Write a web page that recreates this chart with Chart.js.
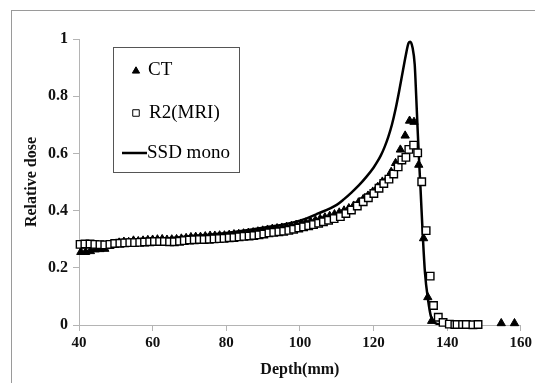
<!DOCTYPE html>
<html>
<head>
<meta charset="utf-8">
<script src="https://cdn.jsdelivr.net/npm/chart.js@4.4.0/dist/chart.umd.min.js"></script>
<style>
  html, body { margin: 0; padding: 0; background: #fff; overflow: hidden; }
  #frame { position: absolute; left: 11px; top: 10px; width: 600px; height: 500px; border: 1px solid #9a9a9a; }
  #wrap { position: absolute; left: 0; top: 0; width: 535px; height: 383px; }
</style>
</head>
<body>
<div id="frame"></div>
<div id="wrap"><canvas id="chart" width="535" height="383"></canvas></div>
<script>
// depth (mm) and relative dose
const ctDepth = [40.5, 41.8, 43.1, 44.4, 45.7, 47.0, 48.3, 49.6, 50.9, 52.2, 53.5, 54.8, 56.1, 57.4, 58.7, 60.0,
  61.3, 62.6, 63.9, 65.2, 66.5, 67.8, 69.1, 70.4, 71.7, 73.0, 74.3, 75.6, 76.9, 78.2, 79.5, 80.8, 82.1, 83.4,
  84.7, 86.0, 87.3, 88.6, 89.9, 91.2, 92.5, 93.8, 95.1, 96.4, 97.7, 99.0, 100.3, 101.6, 102.9, 104.2, 105.5,
  106.8, 108.1, 109.4, 110.7, 112.0, 113.3, 114.6, 115.9, 117.2, 118.5, 119.8, 121.1, 122.4, 123.5, 124.8,
  126.0, 127.3, 128.6, 129.8, 131.0, 132.3, 133.6, 134.75, 135.8, 154.7, 158.3];
const ctDose = [0.255, 0.255, 0.258, 0.264, 0.265, 0.266, 0.276, 0.283, 0.288, 0.291, 0.290, 0.295, 0.293, 0.295, 0.297, 0.298,
  0.299, 0.300, 0.298, 0.299, 0.300, 0.302, 0.304, 0.307, 0.308, 0.308, 0.310, 0.312, 0.312, 0.313, 0.313, 0.315, 0.317, 0.318,
  0.320, 0.322, 0.324, 0.327, 0.330, 0.333, 0.336, 0.338, 0.340, 0.343, 0.346, 0.350, 0.354, 0.358, 0.362, 0.366, 0.371,
  0.376, 0.381, 0.387, 0.393, 0.400, 0.408, 0.417, 0.428, 0.440, 0.452, 0.466, 0.482, 0.501, 0.507, 0.535,
  0.566, 0.613, 0.662, 0.714, 0.710, 0.560, 0.303, 0.097, 0.014, 0.006, 0.006];

const mriDepth = [40.3, 41.6, 43.0, 44.3, 45.7, 47.0, 48.4, 49.7, 51.1, 52.4, 53.8, 55.1, 56.5, 57.8, 59.2, 60.5,
  61.9, 63.2, 64.6, 65.9, 67.3, 68.6, 70.0, 71.3, 72.7, 74.0, 75.4, 76.7, 78.1, 79.4, 80.8, 82.1, 83.5, 84.8,
  86.2, 87.5, 88.9, 90.2, 91.6, 92.9, 94.3, 95.6, 97.0, 98.3, 99.7, 101.0, 102.4, 103.7, 105.1, 106.4, 107.8,
  109.3, 111.0, 112.5, 114.0, 115.6, 117.2, 118.6, 120.1, 121.5, 122.8, 124.2, 125.5, 126.7, 127.7, 128.8,
  129.6, 130.9, 132.0, 133.1, 134.3, 135.4, 136.3, 137.6, 138.9, 140.6, 142.1, 142.7, 144.2, 145.2, 147.0, 148.4];
const mriDose = [0.282, 0.283, 0.283, 0.282, 0.281, 0.280, 0.282, 0.285, 0.286, 0.287, 0.288, 0.288, 0.289, 0.290, 0.291, 0.292,
  0.292, 0.292, 0.291, 0.291, 0.293, 0.295, 0.297, 0.298, 0.299, 0.299, 0.300, 0.301, 0.302, 0.303, 0.305, 0.306, 0.308, 0.310,
  0.311, 0.313, 0.315, 0.318, 0.322, 0.324, 0.326, 0.328, 0.331, 0.335, 0.339, 0.343, 0.347, 0.351, 0.356, 0.361, 0.366,
  0.372, 0.379, 0.390, 0.402, 0.416, 0.431, 0.445, 0.460, 0.478, 0.495, 0.510, 0.528, 0.553, 0.577, 0.586,
  0.614, 0.629, 0.602, 0.501, 0.330, 0.171, 0.068, 0.027, 0.009, 0.003, 0.002, 0.002, 0.002, 0.002, 0.001, 0.002];

const ssdDepth = [40, 50, 60, 70, 80, 90, 100, 105, 110, 112, 114, 116, 118, 120, 121, 122, 123, 124, 125, 126,
  127, 128, 128.8, 129.5, 130, 130.6, 131.2, 131.6, 132, 132.4, 132.8, 133.4, 134, 134.8, 135.6, 136.5, 137.5, 140];
const ssdDose = [0.278, 0.288, 0.298, 0.310, 0.322, 0.340, 0.365, 0.390, 0.420, 0.440, 0.463, 0.488, 0.517, 0.550, 0.570, 0.593, 0.622, 0.657, 0.700, 0.755,
  0.820, 0.890, 0.945, 0.985, 0.990, 0.970, 0.910, 0.800, 0.680, 0.570, 0.470, 0.310, 0.180, 0.090, 0.030, 0.010, 0.003, 0.0];

const xTicks = [40, 60, 80, 100, 120, 140, 160];
const yTicks = [0, 0.2, 0.4, 0.6, 0.8, 1];
const yTickLabels = ['0', '0.2', '0.4', '0.6', '0.8', '1'];

const seriesNames = ['CT', 'R2(MRI)', 'SSD mono'];

const pts = (xs, ys) => xs.map((x, i) => ({ x: x, y: ys[i] }));

const SERIF = '"Liberation Serif", "Times New Roman", serif';
const AXIS = '#b4b4b4';

// boxed legend inside the plot, like the original
const legendBox = {
  id: 'legendBox',
  afterDatasetsDraw(chart) {
    const ctx = chart.ctx, a = chart.chartArea;
    const x = a.left + 34, y = a.top + 8, w = 126, h = 125;
    ctx.save();
    ctx.fillStyle = '#fff';
    ctx.fillRect(x, y, w, h);
    ctx.strokeStyle = '#555';
    ctx.lineWidth = 1;
    ctx.strokeRect(x + 0.5, y + 0.5, w, h);

    ctx.fillStyle = '#000';
    ctx.strokeStyle = '#000';
    Chart.helpers.drawPoint(ctx, { pointStyle: 'triangle', radius: 4.2, borderWidth: 1, rotation: 0 }, x + 23, y + 24);
    ctx.fillStyle = '#fff';
    Chart.helpers.drawPoint(ctx, { pointStyle: 'rect', radius: 4.6, borderWidth: 1.2, rotation: 0 }, x + 23, y + 66);
    ctx.lineWidth = 2.5;
    ctx.beginPath();
    ctx.moveTo(x + 9, y + 106);
    ctx.lineTo(x + 34, y + 106);
    ctx.stroke();

    ctx.fillStyle = '#000';
    ctx.font = '19px ' + SERIF;
    ctx.textBaseline = 'middle';
    ctx.fillText(seriesNames[0], x + 35, y + 23);
    ctx.fillText(seriesNames[1], x + 36, y + 66);
    ctx.fillText(seriesNames[2], x + 34, y + 106);
    ctx.restore();
  }
};

new Chart(document.getElementById('chart'), {
  type: 'scatter',
  data: {
    datasets: [
      {
        label: seriesNames[1],
        data: pts(mriDepth, mriDose),
        pointStyle: 'rect',
        pointRadius: 5.3,
        backgroundColor: '#fff',
        borderColor: '#000',
        borderWidth: 1.4,
        clip: false,
        order: 1,
      },
      {
        label: seriesNames[2],
        data: pts(ssdDepth, ssdDose),
        showLine: true,
        pointRadius: 0,
        borderColor: '#000',
        borderWidth: 2.5,
        cubicInterpolationMode: 'monotone',
        order: 2,
      },
      {
        label: seriesNames[0],
        data: pts(ctDepth, ctDose),
        pointStyle: 'triangle',
        pointRadius: 4.8,
        backgroundColor: '#000',
        borderColor: '#000',
        borderWidth: 1,
        clip: false,
        order: 3,
      },
    ],
  },
  options: {
    responsive: false,
    animation: false,
    layout: { padding: { left: 18, right: 11, top: 39, bottom: 0 } },
    plugins: { legend: { display: false }, tooltip: { enabled: false } },
    scales: {
      x: {
        type: 'linear',
        min: 40, max: 160,
        afterBuildTicks: (s) => { s.ticks = xTicks.map(v => ({ value: v })); },
        afterFit: (s) => { s.height = 58; },
        ticks: { color: '#111', font: { family: SERIF, size: 15, weight: 'bold' }, padding: 3 },
        grid: { drawOnChartArea: false, drawTicks: true, tickLength: 6, color: AXIS },
        border: { color: AXIS },
        title: { display: true, text: 'Depth(mm)', color: '#111', font: { family: SERIF, size: 16, weight: 'bold' }, padding: 4 },
      },
      y: {
        min: 0, max: 1,
        afterBuildTicks: (s) => { s.ticks = yTicks.map(v => ({ value: v })); },
        afterFit: (s) => { s.width = 61; },
        ticks: {
          color: '#111', font: { family: SERIF, size: 16, weight: 'bold' }, padding: 5,
          callback: (v) => yTickLabels[yTicks.indexOf(v)] ?? '',
        },
        grid: { drawOnChartArea: false, drawTicks: true, tickLength: 6, color: AXIS },
        border: { color: AXIS },
        title: { display: true, text: 'Relative dose', color: '#111', font: { family: SERIF, size: 16, weight: 'bold' }, padding: 4 },
      },
    },
  },
  plugins: [legendBox],
});
</script>
</body>
</html>
